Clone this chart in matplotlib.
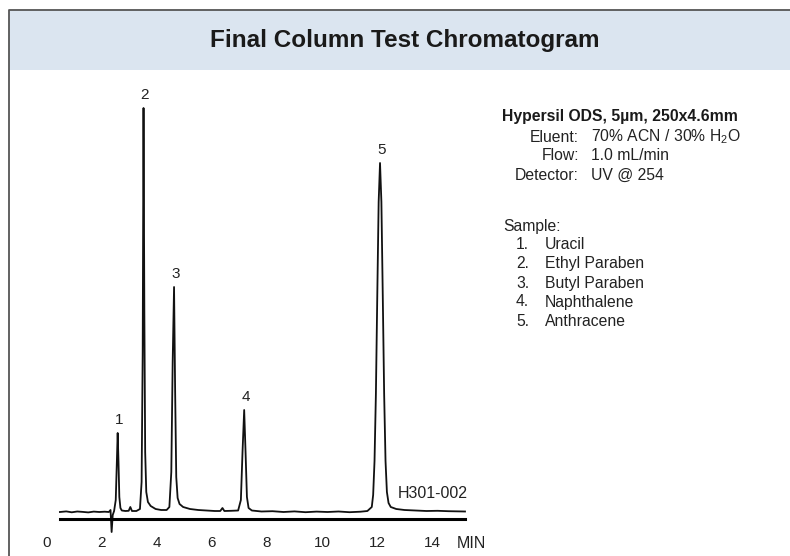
import matplotlib.pyplot as plt
from matplotlib.patches import Rectangle
from matplotlib.lines import Line2D

plt.rcParams['font.family'] = ['Liberation Sans', 'DejaVu Sans']
plt.rcParams['mathtext.fontset'] = 'custom'
plt.rcParams['mathtext.rm'] = 'Liberation Sans'

# chromatogram trace (time in min, detector signal in arbitrary units)
time_min = [0.47, 0.7, 0.9, 1.1, 1.3, 1.5, 1.7, 1.9, 2.1, 2.25, 2.31, 2.35, 2.39, 2.44,
            2.50, 2.54, 2.57, 2.60, 2.63, 2.67, 2.72, 2.85, 2.97, 3.03, 3.09, 3.25, 3.38,
            3.44, 3.48, 3.51, 3.54, 3.57, 3.61, 3.67, 3.77, 3.95, 4.15, 4.35, 4.45, 4.52,
            4.57, 4.62, 4.66, 4.70, 4.75, 4.82, 4.95, 5.2, 5.5, 5.8, 6.1, 6.3, 6.38, 6.45,
            6.7, 6.95, 7.05, 7.11, 7.17, 7.22, 7.27, 7.33, 7.45, 7.8, 8.2, 8.6, 9.0, 9.4,
            9.8, 10.2, 10.6, 11.0, 11.4, 11.65, 11.81, 11.86, 11.91, 11.96, 12.01, 12.06,
            12.11, 12.16, 12.21, 12.26, 12.31, 12.36, 12.42, 12.5, 12.7, 13.0, 13.4, 13.8,
            14.2, 14.6, 15.0, 15.2]
signal = [0.0, 0.6, -0.3, 0.5, 0.1, -0.4, 0.4, 0.0, 0.3, 0.0, 2.0, -20.0, -3.0, 1.0,
          12.0, 50.0, 79.0, 50.0, 15.0, 4.0, 1.5, 1.0, 1.2, 5.0, 1.0, 1.0, 3.0,
          30.0, 160.0, 404.0, 200.0, 60.0, 20.0, 10.0, 6.0, 3.0, 2.0, 2.0, 5.0, 40.0,
          150.0, 225.0, 120.0, 35.0, 14.0, 8.0, 5.0, 3.0, 2.0, 1.5, 1.0, 1.0, 4.0, 1.0,
          1.2, 1.5, 12.0, 60.0, 102.0, 60.0, 15.0, 4.0, 1.5, 0.5, 0.8, 0.0, 0.6, -0.2,
          0.4, 0.0, 0.5, -0.2, 0.3, 1.0, 5.0, 17.0, 51.0, 118.0, 216.0, 310.0,
          349.0, 310.0, 216.0, 118.0, 51.0, 20.0, 9.0, 5.0, 3.0, 2.0, 1.5, 1.0,
          1.2, 0.8, 0.6, 0.5]

peak_ids = ['1', '2', '3', '4', '5']
peak_times = [2.57, 3.51, 4.62, 7.17, 12.11]
peak_heights = [79, 404, 225, 102, 349]

x_ticks = [0, 2, 4, 6, 8, 10, 12, 14]

column_line = 'Hypersil ODS, 5µm, 250x4.6mm'
cond_names = ['Eluent:', 'Flow:', 'Detector:']
cond_values = ['70% ACN / 30% H$_\\mathrm{2}$O', '1.0 mL/min', 'UV @ 254']
sample_names = ['Uracil', 'Ethyl Paraben', 'Butyl Paraben', 'Naphthalene', 'Anthracene']

W, H = 790, 556
fig = plt.figure(figsize=(W / 100, H / 100), dpi=100)

def fx(px):
    return px / W

def fy(py):
    return 1 - py / H

# frame (left and top edges only) and title band
fig.patches.append(Rectangle((fx(9), fy(70)), 1.0, fy(10) - fy(70),
                             transform=fig.transFigure, facecolor='#dbe5f0',
                             edgecolor='none', zorder=0))
fig.lines.append(Line2D([fx(9), fx(9), 1.0], [0.0, fy(10), fy(10)],
                        transform=fig.transFigure, color='#555555', linewidth=1.3))
fig.text(fx(405), fy(40), 'Final Column Test Chromatogram', ha='center', va='center',
         fontsize=17.5, fontweight='bold', color='#1a1a1a')

ax = fig.add_axes([fx(47), 14 / H, 440 / W, 450 / H])
ax.patch.set_visible(False)
ax.set_xlim(0, 16)
ax.set_ylim(-30, 420)
ax.plot(time_min, signal, color='#111111', lw=1.3)

for s in ['top', 'right', 'left']:
    ax.spines[s].set_visible(False)
ax.spines['bottom'].set_position(('data', -7))
ax.spines['bottom'].set_bounds(0.47, 15.2)
ax.spines['bottom'].set_linewidth(2.2)
ax.set_xticks(x_ticks)
ax.set_yticks([])
ax.tick_params(axis='x', length=0, pad=12, labelsize=11, labelcolor='#222222')

for lab, t, h in zip(peak_ids, peak_times, peak_heights):
    ax.annotate(lab, (t, h), xytext=(1, 4), textcoords='offset points',
                ha='center', va='bottom', fontsize=11, color='#222222')

fig.text(fx(471), fy(543), 'MIN', ha='center', va='center', fontsize=11.5, color='#222222')
fig.text(fx(468), fy(493), 'H301-002', ha='right', va='center', fontsize=11.5, color='#222222')

# method info
fig.text(fx(502), fy(117), column_line, ha='left', va='center', fontsize=11.3,
         fontweight='bold', color='#1a1a1a')
for i, (n, v) in enumerate(zip(cond_names, cond_values)):
    y = 137 + i * 19
    fig.text(fx(579), fy(y), n, ha='right', va='center', fontsize=11.3, color='#222222')
    fig.text(fx(591), fy(y), v, ha='left', va='center', fontsize=11.3, color='#222222')

fig.text(fx(503), fy(227), 'Sample:', ha='left', va='center', fontsize=11.3, color='#222222')
for i, name in enumerate(sample_names):
    y = 245 + i * 19
    fig.text(fx(529), fy(y), f'{i + 1}.', ha='right', va='center', fontsize=11.3, color='#222222')
    fig.text(fx(545), fy(y), name, ha='left', va='center', fontsize=11.3, color='#222222')

fig.savefig('out.png', dpi=100)
